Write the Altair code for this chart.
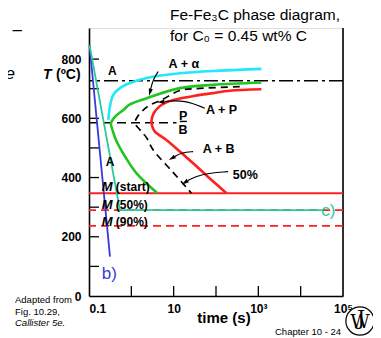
import altair as alt
import pandas as pd

FONT = "Liberation Sans"

# ---------------- axes ----------------
x_tick_values = [0.1, 10, 1000, 100000]
x_tick_labels = ["0.1", "10", "10³", "10⁵"]
x_minor_ticks = [1, 10, 100, 1000, 10000]
y_tick_values = [0, 200, 400, 600, 800]
y_minor_ticks = [100, 200, 300, 400, 500, 600, 700, 800]

# ---------------- curves: time (s), temperature (ºC) ----------------
cyan_time = [0.285, 0.313, 0.374, 0.538, 0.927, 2.30, 14.0, 123, 1180]
cyan_temp = [595, 640, 679, 702, 719, 736, 752, 761, 767]

green_time = [1180, 85.5, 14.0, 2.30, 0.927, 0.644, 0.41, 0.330, 0.358, 0.433, 0.747, 1.33, 4.13]
green_temp = [721, 713, 702, 668, 647, 628, 605, 583, 561, 527, 466, 414, 347]

half_time = [364, 41.5, 14.0, 5.19, 2.75, 1.91, 1.43, 1.22, 1.60, 2.30, 3.29, 9.07, 26.4]
half_temp = [707, 701, 694, 662, 645, 628, 608, 584, 561, 534, 493, 422, 347]

red_time = [1180, 211, 85.5, 31.6, 14.0, 6.92, 4.36, 3.32, 2.98, 3.15, 3.60, 6.73, 14.0, 31.6, 71.4, 177]
red_temp = [698, 693, 685, 676, 667, 655, 637, 615, 588, 571, 555, 527, 488, 443, 397, 347]

blue_time = [0.1028, 0.313]
blue_temp = [848, 133]

teal_time = [0.1028, 0.538, 33000]
teal_temp = [848, 290, 290]

# horizontal reference lines
eutectoid_temp = 727
pb_time = [0.1, 11.7]
pb_temp = 585
pb_bar_time = [14.0, 20.5]
pb_bar_temp = 589.5
m_start_temp = 347
m50_temp = 290
m90_temp = 237

# annotation arrows (time, temp)
arrow_alpha_time = [4.31, 3.23, 2.82]
arrow_alpha_temp = [758, 730, 694]
arrow_p_time = [54.4, 18.4, 6.2]
arrow_p_temp = [634, 662, 657]
arrow_b_time = [28.8, 15.6, 10.7]
arrow_b_temp = [487.5, 485, 471]
arrow_50_time = [193, 41.5, 21.6]
arrow_50_temp = [420, 412, 390]
head_time = [2.75, 4.99, 9.07, 18.4]
head_temp = [688, 655.5, 465, 383]
head_angle = [195, 265, 240, 235]

W, H = 254, 268

label_expr = " : ".join(
    f"abs(datum.value - {v}) < {v * 0.01} ? '{l}'" for v, l in zip(x_tick_values, x_tick_labels)
) + " : ''"

x_axis = alt.Axis(
    values=x_tick_values, labelExpr=label_expr, ticks=False, tickSize=0, grid=False,
    domainColor="black", domainWidth=1.6, labelFont=FONT, labelFontSize=12,
    labelFontWeight="bold", labelColor="black", labelPadding=7, title=None,
    labelAlign={"condition": {"test": "datum.value < 1", "value": "left"}, "value": "center"},
)
y_axis = alt.Axis(
    values=y_tick_values, ticks=False, tickSize=0, grid=False, domainColor="black",
    domainWidth=1.6, labelFont=FONT, labelFontSize=12, labelFontWeight="bold",
    labelColor="black", labelPadding=8, title=None,
)
xs = alt.Scale(type="log", domain=[0.1, 100000])
ys = alt.Scale(domain=[0, 905], nice=False, zero=False)


def X(f="t"):
    return alt.X(f"{f}:Q", scale=xs, axis=x_axis)


def Y(f="T"):
    return alt.Y(f"{f}:Q", scale=ys, axis=y_axis)


one = pd.DataFrame({"k": [0]})


def curve(ts, Ts, color, width, dash=None, interp="catmull-rom"):
    df = pd.DataFrame({"t": ts, "T": Ts, "i": list(range(len(ts)))})
    kw = dict(color=color, strokeWidth=width, interpolate=interp)
    if dash:
        kw["strokeDash"] = dash
    return alt.Chart(df).mark_line(**kw).encode(x=X(), y=Y(), order="i:Q")


def hline(T, color, width, dash=None):
    kw = dict(color=color, strokeWidth=width)
    if dash:
        kw["strokeDash"] = dash
    return alt.Chart(pd.DataFrame({"T": [T]})).mark_rule(**kw).encode(y=Y())


def seg(t1, t2, T, color, width, dash=None):
    kw = dict(color=color, strokeWidth=width)
    if dash:
        kw["strokeDash"] = dash
    df = pd.DataFrame({"t": [t1], "t2": [t2], "T": [T]})
    return alt.Chart(df).mark_rule(**kw).encode(x=X(), x2="t2:Q", y=Y())


def dtext(text, t, T, size=12, weight="bold", style="normal", color="black", align="center", font=FONT):
    df = pd.DataFrame({"t": [t], "T": [T]})
    return alt.Chart(df).mark_text(
        text=text, fontSize=size, fontWeight=weight, fontStyle=style, color=color,
        align=align, baseline="middle", font=font,
    ).encode(x=X(), y=Y())


def ptext(text, x, y, size=12, weight="normal", style="normal", color="black", align="left",
          baseline="middle", font=FONT):
    return alt.Chart(one).mark_text(
        text=text, fontSize=size, fontWeight=weight, fontStyle=style, color=color,
        align=align, baseline=baseline, font=font,
    ).encode(x=alt.value(x), y=alt.value(y))


layers = []

# frame pieces and inward ticks
layers.append(alt.Chart(one).mark_rule(color="black", strokeWidth=1.6).encode(
    x=alt.value(W), y=alt.value(0), y2=alt.value(H)))
layers.append(alt.Chart(pd.DataFrame({"T": y_minor_ticks})).mark_rule(color="black", strokeWidth=1.3).encode(
    y=Y(), x=alt.value(0), x2=alt.value(10)))
layers.append(alt.Chart(pd.DataFrame({"t": x_minor_ticks})).mark_rule(color="black", strokeWidth=1.3).encode(
    x=X(), y=alt.value(H), y2=alt.value(H - 10)))

# horizontal lines
layers.append(hline(eutectoid_temp, "black", 1.5, [14, 4, 3, 4]))
layers.append(seg(pb_time[0], pb_time[1], pb_temp, "black", 1.6, [9, 5]))
layers.append(seg(pb_bar_time[0], pb_bar_time[1], pb_bar_temp, "black", 1.4))
layers.append(hline(m_start_temp, "#FF2020", 1.8))
layers.append(hline(m50_temp, "#FF2020", 1.8, [8, 5]))
layers.append(hline(m90_temp, "#FF2020", 1.8, [8, 5]))

# transformation curves
layers.append(curve(cyan_time, cyan_temp, "#22E8F8", 2.6))
layers.append(curve(green_time, green_temp, "#22C422", 2.6))
layers.append(curve(half_time, half_temp, "black", 1.7, [7, 5]))
layers.append(curve(red_time, red_temp, "#FF2020", 2.6))
layers.append(curve(blue_time, blue_temp, "#3A3AD8", 1.8, interp="linear"))
layers.append(curve(teal_time, teal_temp, "#2BC8A0", 1.8, interp="linear"))

# arrows
for ts, Ts in [(arrow_alpha_time, arrow_alpha_temp), (arrow_p_time, arrow_p_temp),
               (arrow_b_time, arrow_b_temp), (arrow_50_time, arrow_50_temp)]:
    layers.append(curve(ts, Ts, "black", 1.1, interp="basis"))
heads = pd.DataFrame({"t": head_time, "T": head_temp, "ang": head_angle})
layers.append(alt.Chart(heads).mark_point(
    shape="M0,-1L0.6,1L-0.6,1Z", filled=True, color="black", size=49, opacity=1).encode(
    x=X(), y=Y(), angle=alt.Angle("ang:Q", scale=None)))

# in-plot labels
layers.append(dtext("A", 0.358, 760))
layers.append(dtext("A + α", 17.4, 784, size=12.5))
layers.append(dtext("A + P", 135, 628, size=12.5))
layers.append(dtext("P", 16.7, 608, size=12.5))
layers.append(dtext("B", 16.7, 559, size=12.5))
layers.append(dtext("A + B", 116, 497, size=12.5))
layers.append(dtext("50%", 491, 409, size=12.5))
layers.append(dtext("A", 0.313, 454))
for T, lab in [(369, "(start)"), (307, "(50%)"), (251, "(90%)")]:
    layers.append(dtext("M", 0.2, T, size=13, style="italic", align="left"))
    layers.append(dtext(lab, 0.43, T, align="left"))
layers.append(dtext("b)", 0.2, 74, size=17, weight="normal", color="#3A3AD8", align="left"))
layers.append(dtext("c)", 30800, 287, size=17, weight="normal", color="#2BC8A0", align="left"))

# titles and outside text (pixels relative to plot origin)
layers.append(ptext("Fe-Fe₃C phase diagram,", 81, -8.5, size=15.5, baseline="alphabetic"))
layers.append(ptext("for C₀ = 0.45 wt% C", 81, 13, size=15.5, baseline="alphabetic"))
layers.append(ptext("T", -46, 47, size=14, weight="bold", style="italic"))
layers.append(ptext("(ºC)", -33, 47, size=14, weight="bold"))
layers.append(ptext("time (s)", 135, 290, size=15, weight="bold", align="center"))
layers.append(ptext("Adapted from", -74, 272, size=9.5))
layers.append(ptext("Fig. 10.29,", -74, 283.5, size=9.5))
layers.append(ptext("Callister 5e.", -74, 294.5, size=9.5, style="italic"))
layers.append(ptext("Chapter 10 - 24", 186, 304, size=9.5))
for s, x, y in [("e –", -67, 2), ("o", -81, 25), ("re", -74, 46), ("e", -86, 132), ("s", -87, 175)]:
    layers.append(ptext(s, x, y, size=17, style="italic", align="right"))

# logo
layers.append(alt.Chart(one).mark_point(shape="circle", size=800, filled=False, color="black",
                                        strokeWidth=1.2, opacity=1).encode(
    x=alt.value(271), y=alt.value(293)))
layers.append(ptext("W", 271, 294, size=19, align="center", font="DejaVu Serif"))
layers.append(ptext("J", 272, 291, size=20, align="center", font="DejaVu Serif"))

chart = alt.layer(*layers).properties(
    width=W, height=H,
    padding={"left": 81, "top": 20, "right": 30, "bottom": 42},
    autosize=alt.AutoSizeParams(type="none"),
).configure_view(stroke=None).configure(font=FONT)

chart.save("out.html", embed_options={"renderer": "svg", "actions": False})
